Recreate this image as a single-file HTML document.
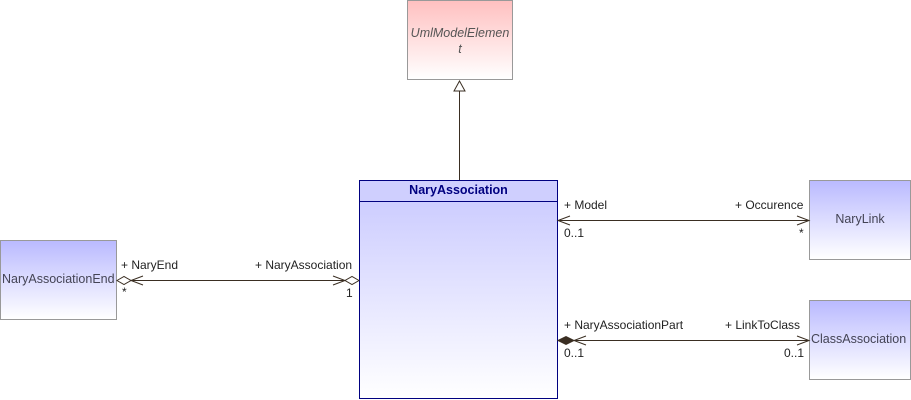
<!DOCTYPE html>
<html><head><style>
body{margin:0;width:911px;height:400px;background:#fff;overflow:hidden;position:relative;font-family:"Liberation Sans",sans-serif;font-size:12px;color:#222}
.b{position:absolute;box-sizing:border-box}
.t{position:absolute;white-space:nowrap}
</style></head><body>
<div class="b" style="left:407px;top:0;width:106px;height:80px;border:1px solid #999;background:linear-gradient(#ffc0c0,#fff);"></div>
<div class="t" style="left:407px;top:25px;width:106px;text-align:center;font-style:italic;color:#555;font-size:12.5px;line-height:16px">UmlModelElemen<br>t</div>
<div class="b" style="left:359px;top:180px;width:199px;height:219px;border:1px solid #000080;background:linear-gradient(#c8c8ff,#fff);"></div>
<div class="b" style="left:359px;top:180px;width:199px;height:22px;border:1px solid #000080;background:#cfcffe;"></div>
<div class="t" style="left:359px;top:183px;width:199px;text-align:center;font-weight:bold;color:#000080;font-size:12.5px">NaryAssociation</div>
<div class="b" style="left:0;top:240px;width:117px;height:80px;border:1px solid #999;background:linear-gradient(#babaff,#fff);"></div>
<div class="t" style="left:2px;top:272px;font-size:12.5px;color:#445">NaryAssociationEnd</div>
<div class="b" style="left:809px;top:180px;width:102px;height:80px;border:1px solid #999;background:linear-gradient(#babaff,#fff);"></div>
<div class="t" style="left:809px;top:212px;width:102px;text-align:center;font-size:12.5px;color:#445">NaryLink</div>
<div class="b" style="left:809px;top:300px;width:102px;height:80px;border:1px solid #999;background:linear-gradient(#babaff,#fff);"></div>
<div class="t" style="left:811px;top:332px;font-size:12.5px;color:#445">ClassAssociation</div>
<svg width="911" height="400" style="position:absolute;left:0;top:0" fill="none" stroke="#3a2e22" stroke-width="1">
<line x1="459.5" y1="180" x2="459.5" y2="91"/>
<polygon points="459.5,81 454,91 465,91" fill="#fff"/>
<line x1="117" y1="280.5" x2="359" y2="280.5"/>
<polygon points="117,280.5 124,276.5 131,280.5 124,284.5" fill="#fff"/>
<polyline points="143,276 131,280.5 143,285"/>
<polygon points="359,280.5 352,276.5 345,280.5 352,284.5" fill="#fff"/>
<polyline points="333,276 345,280.5 333,285"/>
<line x1="558" y1="220.5" x2="809" y2="220.5"/>
<polyline points="570,216 558,220.5 570,225"/>
<polyline points="797,216 809,220.5 797,225"/>
<line x1="558" y1="340.5" x2="809" y2="340.5"/>
<polygon points="558,340.5 566,336.5 574,340.5 566,344.5" fill="#3a2e22"/>
<polyline points="586,336 574,340.5 586,345"/>
<polyline points="797,336 809,340.5 797,345"/>
</svg>
<div class="t" style="left:121px;top:258px">+ NaryEnd</div>
<div class="t" style="left:122px;top:285px">*</div>
<div class="t" style="left:255px;top:258px">+ NaryAssociation</div>
<div class="t" style="left:346px;top:286px">1</div>
<div class="t" style="left:564px;top:198px">+ Model</div>
<div class="t" style="left:564px;top:226px">0..1</div>
<div class="t" style="left:735px;top:198px">+ Occurence</div>
<div class="t" style="left:799px;top:226px">*</div>
<div class="t" style="left:564px;top:318px">+ NaryAssociationPart</div>
<div class="t" style="left:564px;top:346px">0..1</div>
<div class="t" style="left:725px;top:318px">+ LinkToClass</div>
<div class="t" style="left:784px;top:346px">0..1</div>
</body></html>
